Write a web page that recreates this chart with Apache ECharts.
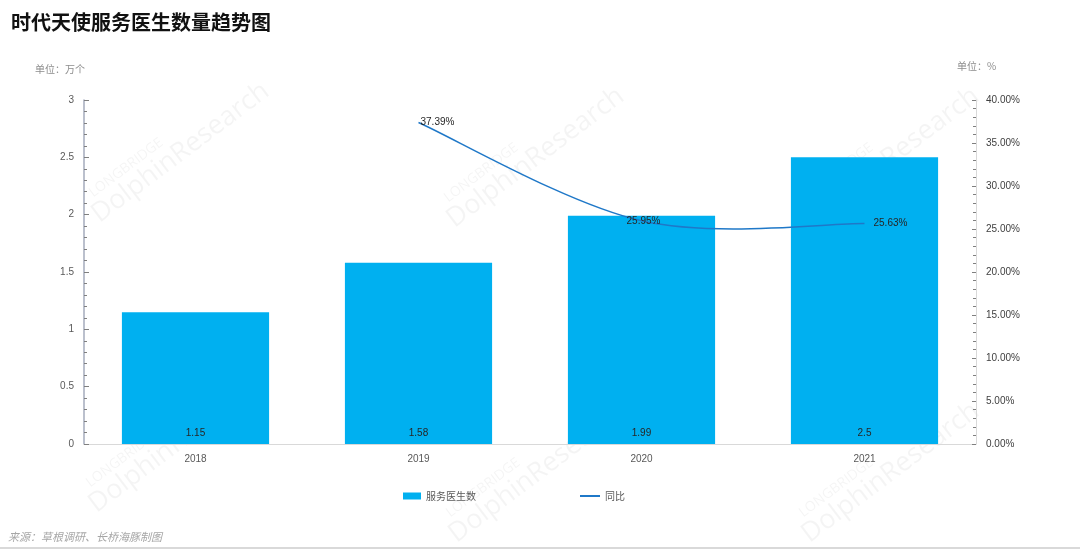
<!DOCTYPE html>
<html><head><meta charset="utf-8">
<script src="https://cdn.jsdelivr.net/npm/echarts@6/dist/echarts.min.js"></script>
<style>html,body{margin:0;padding:0;background:#fff}#c{width:1080px;height:550px}</style>
</head><body><div id="c"></div>
<script>
const categories = ['2018', '2019', '2020', '2021'];
const doctors = [1.15, 1.58, 1.99, 2.5];
const yoy = [null, 37.39, 25.95, 25.63];
const leftTicks = [0, 3, 0.5];
const rightTicks = [0, 40, 5];
// label placement for the yoy labels (style only)
const yoyLabelAlign = [null, 'left', 'center', 'left'];
const yoyLabelDx = [0, 2, 2, 9];

const wmColor = 'rgba(0,0,0,0.045)';
function wm(x, y) {
  const r = Math.PI * 37 / 180;
  return [
    {type:'text', x:x, y:y, rotation:r, silent:true, z:-10,
      style:{text:'LONGBRIDGE', fill:wmColor, font:'14px "Open Sans"', textVerticalAlign:'bottom'}},
    {type:'text', x:x+8, y:y+28, rotation:r, silent:true, z:-10,
      style:{text:'DolphinResearch', fill:wmColor, font:'27px "Open Sans"', textVerticalAlign:'bottom'}}
  ];
}

function yoyPoints(api) {
  const pts = [];
  yoy.forEach((v, i) => { if (v != null) pts.push(api.coord([i, v])); });
  return pts;
}
function smoothPath(p) {
  // Excel-style cardinal smoothing
  let d = 'M' + p[0][0] + ',' + p[0][1];
  for (let i = 0; i < p.length - 1; i++) {
    const p0 = p[Math.max(i - 1, 0)], p1 = p[i], p2 = p[i + 1], p3 = p[Math.min(i + 2, p.length - 1)];
    const c1 = [p1[0] + (p2[0] - p0[0]) / 6, p1[1] + (p2[1] - p0[1]) / 6];
    const c2 = [p2[0] - (p3[0] - p1[0]) / 6, p2[1] - (p3[1] - p1[1]) / 6];
    d += ' C' + c1[0] + ',' + c1[1] + ' ' + c2[0] + ',' + c2[1] + ' ' + p2[0] + ',' + p2[1];
  }
  return d;
}
const yoyData = yoy.map((v, i) => [i, v]).filter(d => d[1] != null);
const firstIdx = yoy.findIndex(v => v != null);

const chart = echarts.init(document.getElementById('c'));
chart.setOption({
  backgroundColor:'#fff',
  animation:false,
  title:{text:'时代天使服务医生数量趋势图', left:6, top:7,
    textStyle:{fontSize:20, fontWeight:'bold', color:'#111', fontFamily:'Noto Sans CJK SC'}},
  graphic:[].concat(
    wm(95, 200), wm(450, 205), wm(805, 205),
    wm(92, 490), wm(452, 520), wm(805, 520),
    [
      {type:'text', left:35, top:64, style:{text:'单位：万个', fill:'#8c8c8c', font:'10px "Noto Sans CJK SC"'}},
      {type:'text', left:957, top:61, style:{text:'单位：%', fill:'#8c8c8c', font:'10px "Noto Sans CJK SC"'}},
      {type:'text', left:8, top:531, style:{text:'来源：草根调研、长桥海豚制图', fill:'#a6a6a6', font:'italic 11px "Noto Sans CJK SC"'}},
      {type:'rect', left:0, top:547, shape:{width:1080, height:2}, style:{fill:'#d9d9d9'}}
    ]),
  legend:[
    {left:398, top:486, itemWidth:18, itemHeight:7, icon:'rect', itemGap:0,
      textStyle:{fontSize:10, color:'#595959', fontFamily:'Noto Sans CJK SC'},
      data:['服务医生数']},
    {left:575, top:486, itemWidth:20, itemHeight:2, icon:'rect', itemGap:0,
      textStyle:{fontSize:10, color:'#595959', fontFamily:'Noto Sans CJK SC'},
      data:[{name:'同比', itemStyle:{color:'#1f78c8'}}]}
  ],
  grid:{left:84, right:104, top:100, bottom:106},
  xAxis:{type:'category', data:categories,
    axisLine:{lineStyle:{color:'#d9d9d9'}}, axisTick:{show:false},
    axisLabel:{color:'#595959', fontSize:10, margin:10}},
  yAxis:[
    {type:'value', min:leftTicks[0], max:leftTicks[1], interval:leftTicks[2],
      axisLine:{show:true, lineStyle:{color:'#a4abbd', width:1.5}},
      axisTick:{show:true, inside:true, length:5, lineStyle:{color:'#7f7f7f'}},
      minorTick:{show:true, splitNumber:5, length:3, lineStyle:{color:'#7f7f7f'}},
      splitLine:{show:false},
      axisLabel:{color:'#595959', fontSize:10, margin:10}},
    {type:'value', min:rightTicks[0], max:rightTicks[1], interval:rightTicks[2],
      axisLine:{show:true, lineStyle:{color:'#d9d9d9'}},
      axisTick:{show:true, inside:true, length:4, lineStyle:{color:'#7f7f7f'}},
      minorTick:{show:true, splitNumber:5, length:3, lineStyle:{color:'#7f7f7f'}},
      splitLine:{show:false},
      axisLabel:{color:'#404040', fontSize:10, margin:10, formatter:v=>v.toFixed(2)+'%'}}
  ],
  series:[
    {name:'服务医生数', type:'bar', data:doctors, barWidth:'66%',
      itemStyle:{color:'#00b0f0'},
      label:{show:true, position:'insideBottom', distance:6, color:'#262626', fontSize:10}},
    {name:'同比', type:'custom', yAxisIndex:1, data:yoyData, z:5,
      itemStyle:{color:'#1f78c8'},
      encode:{x:0, y:1},
      renderItem:function(params, api){
        const i = api.value(0), v = api.value(1);
        const pt = api.coord([i, v]);
        const children = [{
          type:'text', x:pt[0] + yoyLabelDx[i], y:pt[1],
          style:{text:v.toFixed(2)+'%', fill:'#262626', font:'10px sans-serif',
            textAlign:yoyLabelAlign[i], textVerticalAlign:'middle'}, z2:10
        }];
        if (i === firstIdx) {
          children.unshift({type:'path', shape:{pathData:smoothPath(yoyPoints(api))},
            style:{fill:'none', stroke:'#1f78c8', lineWidth:1.5}});
        }
        return {type:'group', children:children};
      }}
  ]
});
</script></body></html>
